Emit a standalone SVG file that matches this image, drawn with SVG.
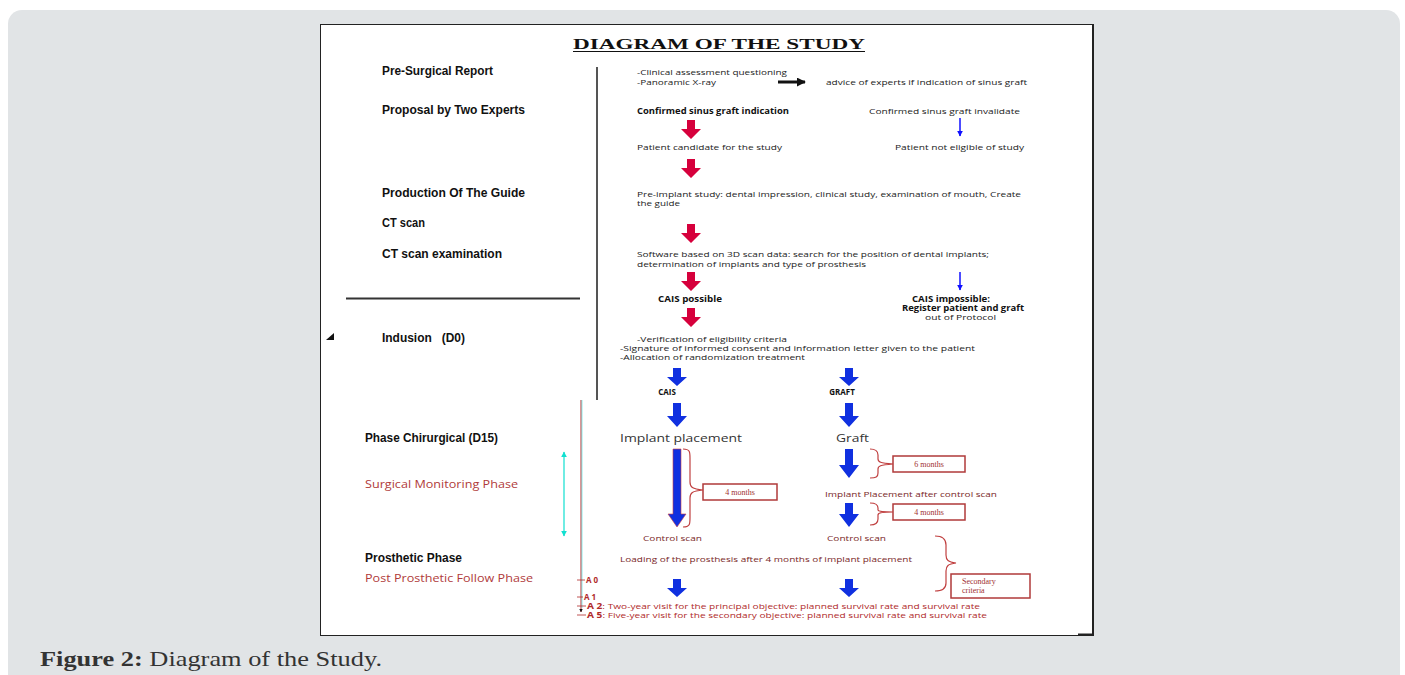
<svg xmlns="http://www.w3.org/2000/svg" width="1405" height="675" viewBox="0 0 1405 675">
<style>
.lbl{font-family:"Liberation Sans",Arial,sans-serif;font-weight:bold;font-size:12px;fill:#111;}
.sm{font-family:"Open Sans","Liberation Sans",sans-serif;font-size:8px;fill:#222;}
.smb{font-family:"Open Sans","Liberation Sans",sans-serif;font-size:8px;font-weight:bold;fill:#111;}
.red{font-family:"Open Sans","Liberation Sans",sans-serif;font-size:8px;fill:#b02a2a;}
.rlbl{font-family:"Open Sans","Liberation Sans",sans-serif;font-size:10px;fill:#b03a3a;}
.ser{font-family:"Liberation Serif","Times New Roman",serif;font-size:8px;fill:#a03030;}
.ctr{font-family:"Open Sans","Liberation Sans",sans-serif;font-size:8px;fill:#7a2828;}
.box{fill:#fff;stroke:#b03a3a;stroke-width:1.5;}
.brace{fill:none;stroke:#c04040;stroke-width:1.2;}
.ra{fill:#d6003c;}
.ba{fill:#1030e0;}
</style>
<defs>
<path id="redArrow" d="M-4,0 H4 V9 H10 L0,19 L-10,9 H-4 Z"/>
<path id="blueArrow" d="M-4,0 H4 V9 H10 L0,18 L-10,9 H-4 Z"/>
<path id="blueArrowL" d="M-4,0 H4 V13 H10 L0,24 L-10,13 H-4 Z"/>
<marker id="thinHead" viewBox="0 0 10 10" refX="9" refY="5" markerWidth="4" markerHeight="4" orient="auto"><path d="M0,0 L10,5 L0,10 Z" fill="#1010ff"/></marker>
<marker id="blkHead" viewBox="0 0 10 10" refX="9" refY="5" markerWidth="3" markerHeight="3" orient="auto"><path d="M0,0 L10,5 L0,10 Z" fill="#111"/></marker>
<marker id="cyanHead" viewBox="0 0 10 10" refX="9" refY="5" markerWidth="5" markerHeight="5" orient="auto-start-reverse"><path d="M0,0 L10,5 L0,10 Z" fill="#10e0d0"/></marker>
</defs>

<rect width="1405" height="675" fill="#fff"/>
<rect x="8" y="10" width="1392" height="720" rx="14" fill="#e1e4e6"/>
<rect x="320.5" y="24.5" width="772" height="611" fill="#fff" stroke="#222" stroke-width="1"/>
<line x1="1093" y1="24" x2="1093" y2="636" stroke="#222" stroke-width="2"/>
<line x1="1078" y1="634.5" x2="1093" y2="634.5" stroke="#222" stroke-width="2"/>

<g id="title">
<text x="573" y="49" font-family="Liberation Serif,Times New Roman,serif" font-weight="bold" font-size="15" fill="#111" textLength="292" lengthAdjust="spacingAndGlyphs">DIAGRAM OF THE STUDY</text>
<line x1="573" y1="51.5" x2="865" y2="51.5" stroke="#111" stroke-width="1.2"/>
</g>

<g id="frame-lines">
<line x1="597" y1="67" x2="597" y2="400" stroke="#555" stroke-width="2"/>
<line x1="346" y1="298.5" x2="580" y2="298.5" stroke="#333" stroke-width="2"/>
<polygon points="326,340 334,340 334,333" fill="#111"/>
</g>

<g id="left-labels">
<text class="lbl" x="382" y="75" textLength="111" lengthAdjust="spacingAndGlyphs">Pre-Surgical Report</text>
<text class="lbl" x="382" y="114" textLength="143" lengthAdjust="spacingAndGlyphs">Proposal by Two Experts</text>
<text class="lbl" x="382" y="197" textLength="143" lengthAdjust="spacingAndGlyphs">Production Of The Guide</text>
<text class="lbl" x="382" y="227" textLength="43" lengthAdjust="spacingAndGlyphs">CT scan</text>
<text class="lbl" x="382" y="258" textLength="120" lengthAdjust="spacingAndGlyphs">CT scan examination</text>
<text class="lbl" x="382" y="342" textLength="83" lengthAdjust="spacingAndGlyphs" xml:space="preserve">Indusion   (D0)</text>
<text class="lbl" x="365" y="442" textLength="133" lengthAdjust="spacingAndGlyphs">Phase Chirurgical (D15)</text>
<text class="rlbl" x="365" y="488" textLength="153" lengthAdjust="spacingAndGlyphs">Surgical Monitoring Phase</text>
<text class="lbl" x="365" y="562" textLength="97" lengthAdjust="spacingAndGlyphs">Prosthetic Phase</text>
<text class="rlbl" x="365" y="582" textLength="168" lengthAdjust="spacingAndGlyphs">Post Prosthetic Follow Phase</text>
</g>

<g id="n-presurgical">
<text class="sm" x="637" y="75" textLength="150" lengthAdjust="spacingAndGlyphs">-Clinical assessment questioning</text>
<text class="sm" x="637" y="85" textLength="79" lengthAdjust="spacingAndGlyphs">-Panoramic X-ray</text>
</g>
<g id="n-advice"><text class="sm" x="826" y="85" textLength="201" lengthAdjust="spacingAndGlyphs">advice of experts if indication of sinus graft</text></g>
<g id="n-confirmed"><text class="smb" x="637" y="114" textLength="152" lengthAdjust="spacingAndGlyphs">Confirmed sinus graft indication</text></g>
<g id="n-invalidate"><text class="sm" x="869" y="114" textLength="151" lengthAdjust="spacingAndGlyphs">Confirmed sinus graft  invalidate</text></g>
<g id="n-candidate"><text class="sm" x="637" y="150" textLength="145" lengthAdjust="spacingAndGlyphs">Patient candidate for the study</text></g>
<g id="n-noteligible"><text class="sm" x="895" y="150" textLength="129" lengthAdjust="spacingAndGlyphs">Patient not eligible of study</text></g>
<g id="n-preimplant">
<text class="sm" x="637" y="197" textLength="384" lengthAdjust="spacingAndGlyphs">Pre-implant study: dental impression, clinical study, examination of mouth, Create</text>
<text class="sm" x="637" y="206" textLength="43" lengthAdjust="spacingAndGlyphs">the guide</text>
</g>
<g id="n-software">
<text class="sm" x="637" y="257" textLength="352" lengthAdjust="spacingAndGlyphs">Software based on 3D scan data: search for the position of dental implants;</text>
<text class="sm" x="637" y="267" textLength="229" lengthAdjust="spacingAndGlyphs">determination of implants and type of prosthesis</text>
</g>
<g id="n-caispossible"><text class="smb" x="658" y="302" textLength="64" lengthAdjust="spacingAndGlyphs">CAIS possible</text></g>
<g id="n-caisimpossible">
<text class="smb" x="912" y="302" textLength="78" lengthAdjust="spacingAndGlyphs">CAIS impossible:</text>
<text class="smb" x="902" y="311" textLength="122" lengthAdjust="spacingAndGlyphs">Register patient and graft</text>
<text class="sm" x="925" y="320" textLength="71" lengthAdjust="spacingAndGlyphs">out of Protocol</text>
</g>
<g id="n-inclusion">
<text class="sm" x="637" y="342" textLength="150" lengthAdjust="spacingAndGlyphs">-Verification of eligibility criteria</text>
<text class="sm" x="620" y="351" textLength="355" lengthAdjust="spacingAndGlyphs">-Signature of informed consent and information letter given to the patient</text>
<text class="sm" x="620" y="360" textLength="185" lengthAdjust="spacingAndGlyphs">-Allocation of randomization treatment</text>
</g>
<g id="n-cais"><text class="smb" x="667" y="395" text-anchor="middle" font-size="7">CAIS</text></g>
<g id="n-graftlbl"><text class="smb" x="842" y="395" text-anchor="middle" font-size="7">GRAFT</text></g>
<g id="n-implant"><text x="620" y="442" font-family="Open Sans,Liberation Sans,sans-serif" font-size="11" fill="#333" textLength="122" lengthAdjust="spacingAndGlyphs">Implant placement</text></g>
<g id="n-graft"><text x="836" y="442" font-family="Open Sans,Liberation Sans,sans-serif" font-size="11" fill="#333" textLength="33" lengthAdjust="spacingAndGlyphs">Graft</text></g>
<g id="n-4months-a">
<rect class="box" x="703" y="484" width="74" height="16"/>
<text class="ser" x="740" y="495" text-anchor="middle">4 months</text>
</g>
<g id="n-6months">
<rect class="box" x="893" y="456" width="72" height="16"/>
<text class="ser" x="929" y="467" text-anchor="middle">6 months</text>
</g>
<g id="n-implantafter"><text class="ctr" x="825" y="497" textLength="172" lengthAdjust="spacingAndGlyphs">Implant Placement after control scan</text></g>
<g id="n-4months-b">
<rect class="box" x="893" y="504" width="72" height="16"/>
<text class="ser" x="929" y="515" text-anchor="middle">4 months</text>
</g>
<g id="n-control-a"><text class="ctr" x="643" y="541" textLength="59" lengthAdjust="spacingAndGlyphs">Control scan</text></g>
<g id="n-control-b"><text class="ctr" x="827" y="541" textLength="59" lengthAdjust="spacingAndGlyphs">Control scan</text></g>
<g id="n-loading"><text class="ctr" x="620" y="562" textLength="292" lengthAdjust="spacingAndGlyphs">Loading of the prosthesis after 4 months of implant placement</text></g>
<g id="n-secondary">
<rect class="box" x="951" y="574" width="79" height="24"/>
<text class="ser" x="962" y="584">Secondary</text>
<text class="ser" x="962" y="593">criteria</text>
</g>
<g id="n-visits">
<text class="red" x="586" y="583" font-weight="bold" font-size="9">A 0</text>
<text class="red" x="584" y="600" font-weight="bold" font-size="9">A 1</text>
<text class="red" x="587" y="609" textLength="393" lengthAdjust="spacingAndGlyphs"><tspan font-weight="bold">A 2</tspan>: Two-year visit for the principal objective: planned survival rate and survival rate</text>
<text class="red" x="587" y="618" textLength="400" lengthAdjust="spacingAndGlyphs"><tspan font-weight="bold">A 5</tspan>: Five-year visit for the secondary objective: planned survival rate and survival rate</text>
</g>

<g id="connectors">
<line x1="778" y1="82" x2="805" y2="82" stroke="#111" stroke-width="3" marker-end="url(#blkHead)"/>
<use href="#redArrow" class="ra" x="691" y="120"/>
<use href="#redArrow" class="ra" x="691" y="159"/>
<use href="#redArrow" class="ra" x="691" y="224"/>
<use href="#redArrow" class="ra" x="691" y="272"/>
<use href="#redArrow" class="ra" x="691" y="308"/>
<line x1="960" y1="118" x2="960" y2="136" stroke="#1010ff" stroke-width="1.5" marker-end="url(#thinHead)"/>
<line x1="960" y1="272" x2="960" y2="290" stroke="#1010ff" stroke-width="1.5" marker-end="url(#thinHead)"/>
<use href="#blueArrow" class="ba" x="677" y="368"/>
<use href="#blueArrow" class="ba" x="849" y="368"/>
<use href="#blueArrowL" class="ba" x="677" y="403"/>
<use href="#blueArrowL" class="ba" x="849" y="403"/>
<path d="M673,449 H681 V514 H686 L677,527 L668,514 H673 Z" fill="#1030e0" stroke="#d04040" stroke-width="0.6"/>
<path class="brace" d="M683,449 C690,449 690,452 690,458 V482 C690,487 692,489 703,490 C692,491 690,493 690,498 V518 C690,524 690,527 683,527"/>
<path d="M845,449 H853 V465 H859 L849,478 L839,465 H845 Z" fill="#1030e0"/>
<path class="brace" d="M870,449 C876,449 878,451 878,455 V459 C878,462 880,463 893,464 C880,465 878,466 878,469 V473 C878,477 876,478 870,478"/>
<path d="M845,503 H853 V514 H859 L849,527 L839,514 H845 Z" fill="#1030e0"/>
<path class="brace" d="M870,503 C876,503 878,505 878,508 V510 C878,511 880,512 893,512 C880,512 878,513 878,515 V519 C878,523 876,525 870,525"/>
<path class="brace" d="M935,536 C943,536 946,539 946,545 V555 C946,560 948,562 956,563 C948,564 946,566 946,571 V583 C946,588 943,591 935,591"/>
<use href="#blueArrow" class="ba" x="677" y="579"/>
<use href="#blueArrow" class="ba" x="849" y="579"/>
<line x1="564" y1="452" x2="564" y2="536" stroke="#10e0d0" stroke-width="1.2" marker-start="url(#cyanHead)" marker-end="url(#cyanHead)"/>
<line x1="581" y1="400" x2="581" y2="612" stroke="#c05050" stroke-width="1.2" marker-end="url(#blkHead)"/>
<line x1="582" y1="400" x2="582" y2="608" stroke="#40e0e0" stroke-width="0.6"/>
<line x1="577" y1="580" x2="585" y2="580" stroke="#b02a2a" stroke-width="0.8"/>
<line x1="577" y1="597" x2="583" y2="597" stroke="#b02a2a" stroke-width="0.8"/>
<line x1="577" y1="606" x2="586" y2="606" stroke="#b02a2a" stroke-width="0.8"/>
<line x1="577" y1="615" x2="586" y2="615" stroke="#b02a2a" stroke-width="0.8"/>
</g>

<g id="caption">
<text x="40" y="666" font-family="Liberation Serif,Times New Roman,serif" font-size="21" fill="#333" textLength="342" lengthAdjust="spacingAndGlyphs"><tspan font-weight="bold">Figure 2:</tspan> Diagram of the Study.</text>
</g>
</svg>
